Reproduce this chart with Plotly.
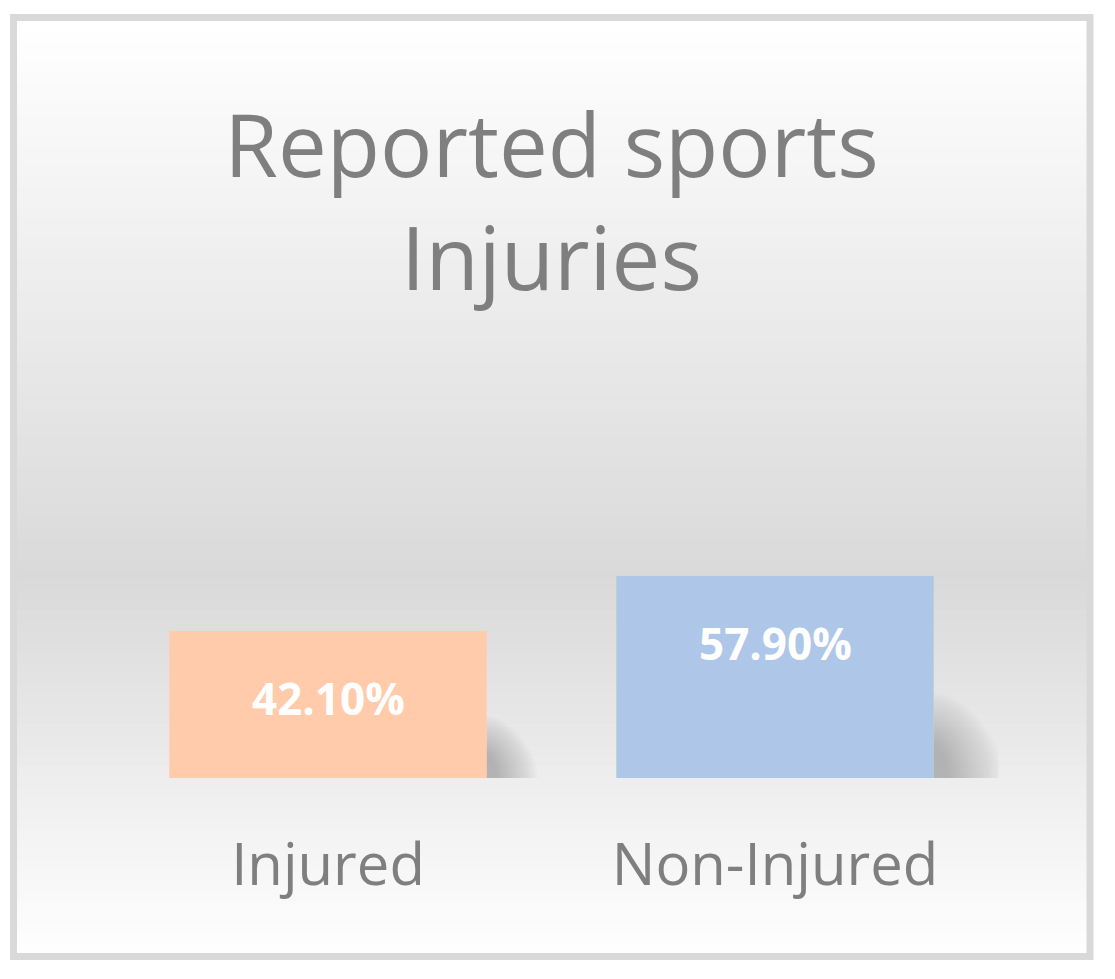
import plotly.graph_objects as go

categories = ["Injured", "Non-Injured"]
values = [42.10, 57.90]
labels = ["42.10%", "57.90%"]
bar_colors = ["#FFCBAA", "#AEC7E8"]

# the page body adds an 8px margin, so the figure is 8px smaller and
# screen positions are converted with that offset
OFF = 8
W, H = 1115 - OFF, 979 - OFF
GRAY = "#7f7f7f"
FONT = "Open Sans"


def px(x):
    return (x - OFF) / W


def py(y):
    return 1 - (y - OFF) / H


fig = go.Figure()

fig.add_trace(go.Bar(
    x=categories, y=values,
    marker=dict(color=bar_colors, line=dict(width=0)),
    width=0.71,
    hoverinfo="skip",
))

# gradient background (white -> #d9d9d9 at 60% -> white), drawn as thin bands
top, bottom = 21, 953
n = 90
for k in range(n):
    f = (k + 0.5) / n
    if f < 0.6:
        g = 255 - (255 - 217) * (f / 0.6)
    else:
        g = 217 + (255 - 217) * ((f - 0.6) / 0.4)
    g = int(round(g))
    y0 = top + (bottom - top) * k / n
    y1 = top + (bottom - top) * (k + 1) / n + 0.6
    fig.add_shape(type="rect", xref="paper", yref="paper",
                  x0=px(17), x1=px(1087), y0=py(y1), y1=py(y0),
                  fillcolor=f"rgb({g},{g},{g})", line=dict(width=0), layer="below")

# outer border
fig.add_shape(type="rect", xref="paper", yref="paper",
              x0=px(13.5), x1=px(1090), y0=py(956.5), y1=py(17.5),
              line=dict(color="#d9d9d9", width=7), fillcolor="rgba(0,0,0,0)", layer="below")

# soft shadows to the right of each bar
for i, v in enumerate(values):
    xe = i + 0.355
    n_s = 18
    for s in range(n_s):
        w = 0.0027 * v * (1 - s / (n_s * 1.2))
        h = 0.42 * v * (1 - s / (n_s * 1.5))
        fig.add_shape(type="path", xref="x", yref="y",
                      path=(f"M {xe},0 L {xe + w},0 "
                            f"C {xe + w},{h * 0.5} {xe + w * 0.4},{h} {xe},{h} Z"),
                      fillcolor="rgba(110,110,110,0.028)", line=dict(width=0), layer="below")
    fig.add_shape(type="rect", xref="x", yref="y",
                  x0=i - 0.355, x1=i + 0.355, y0=-2.0, y1=0,
                  fillcolor="rgba(150,150,150,0.12)", line=dict(width=0), layer="below")

# data labels inside the bars, near the top
for c, v, t in zip(categories, values, labels):
    fig.add_annotation(x=c, y=v, text=f"<b>{t}</b>", showarrow=False,
                       yanchor="middle", yshift=-67,
                       font=dict(family=FONT, size=44, color="white"))

fig.update_layout(
    width=W, height=H,
    margin=dict(l=0, r=0, t=0, b=0),
    paper_bgcolor="white", plot_bgcolor="rgba(0,0,0,0)",
    showlegend=False,
    title=dict(text="Reported sports<br>Injuries", x=px(551.5), xanchor="center",
               y=py(177), yanchor="top",
               font=dict(family=FONT, size=87, color=GRAY)),
    xaxis=dict(domain=[px(104.5), px(998.5)], range=[-0.5, 1.5],
               showgrid=False, zeroline=False, showline=False, ticks="",
               tickfont=dict(family=FONT, size=58, color=GRAY),
               ticklabelstandoff=48),
    yaxis=dict(domain=[py(778), py(429)], range=[0, 100],
               visible=False, showgrid=False, zeroline=False),
    bargap=0.29,
)

fig.write_html("out.html")
